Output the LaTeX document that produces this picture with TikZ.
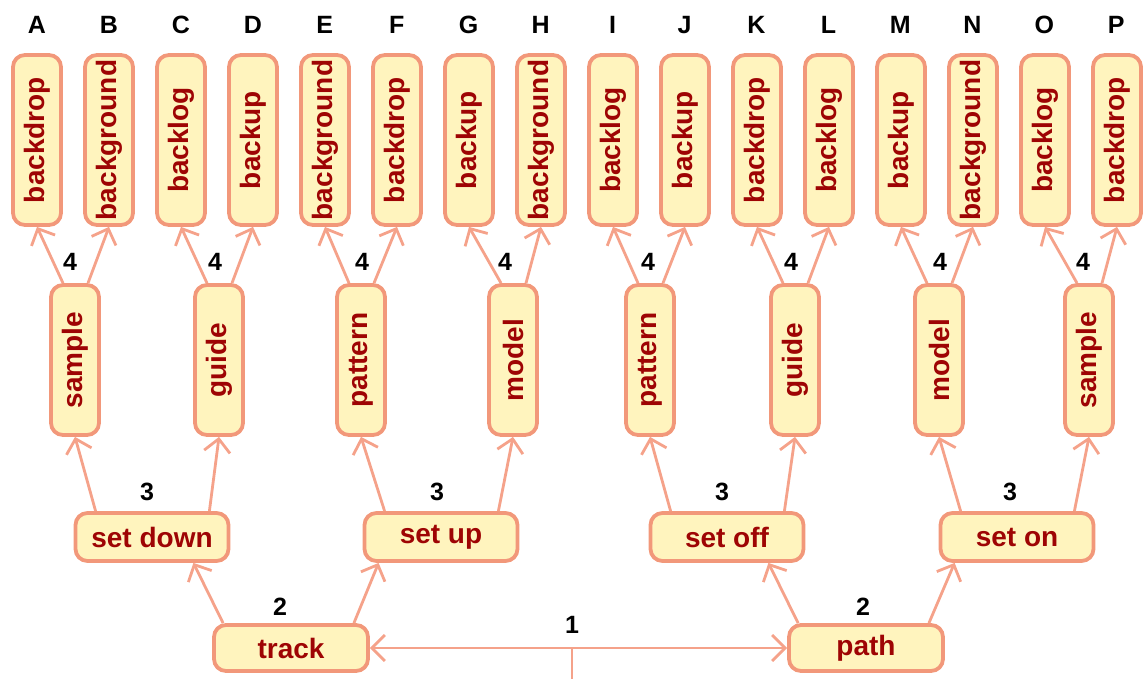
\documentclass[tikz,border=0pt]{standalone}
\usepackage{fontspec}
\setmainfont{Liberation Sans}
\usepackage{graphicx}
\usetikzlibrary{arrows.meta}
\definecolor{bd}{RGB}{242,152,122}
\definecolor{ln}{RGB}{245,162,138}
\definecolor{fl}{RGB}{255,244,190}
\definecolor{tx}{RGB}{158,4,4}
\begin{document}
\begin{tikzpicture}[x=1pt,y=-1pt,
 box/.style={draw=bd, fill=fl, line width=3.8pt, rounded corners=12pt, text=tx, font=\fontsize{28}{30}\selectfont\bfseries, inner sep=0pt},
 leaf/.style={box, minimum width=48pt, minimum height=170pt},
 mid/.style={box, minimum width=48pt, minimum height=150pt},
 hbox/.style={box, minimum width=153pt, minimum height=48pt},
 rootbox/.style={box, minimum width=154pt, minimum height=46pt},
 lab/.style={font=\fontsize{25}{27}\selectfont\bfseries, text=black, inner sep=0pt},
 tip/.tip={Straight Barb[length=13pt,width=26pt]},
 con/.style={draw=ln, line width=2.8pt, -tip},
]
\useasboundingbox (0,0) rectangle (1148,679);
% letters
\foreach \l [count=\i from 0] in {A,B,C,D,E,F,G,H,I,J,K,L,M,N,O,P}
  \node[lab] (let\l) at ({37+71.95*\i},25) {\l};
% leaves
\node[leaf] (A) at (37,140) {\rotatebox{90}{backdrop}};
\node[leaf] (B) at (109,140) {\rotatebox{90}{background}};
\node[leaf] (C) at (181,140) {\rotatebox{90}{backlog}};
\node[leaf] (D) at (253,140) {\rotatebox{90}{backup}};
\node[leaf] (E) at (325,140) {\rotatebox{90}{background}};
\node[leaf] (F) at (397,140) {\rotatebox{90}{backdrop}};
\node[leaf] (G) at (469,140) {\rotatebox{90}{backup}};
\node[leaf] (H) at (541,140) {\rotatebox{90}{background}};
\node[leaf] (I) at (613,140) {\rotatebox{90}{backlog}};
\node[leaf] (J) at (685,140) {\rotatebox{90}{backup}};
\node[leaf] (K) at (757,140) {\rotatebox{90}{backdrop}};
\node[leaf] (L) at (829,140) {\rotatebox{90}{backlog}};
\node[leaf] (M) at (901,140) {\rotatebox{90}{backup}};
\node[leaf] (N) at (973,140) {\rotatebox{90}{background}};
\node[leaf] (O) at (1045,140) {\rotatebox{90}{backlog}};
\node[leaf] (P) at (1117,140) {\rotatebox{90}{backdrop}};
% level 3
\node[mid] (m1) at (75,360) {\rotatebox{90}{sample}};
\node[mid] (m2) at (219,360) {\rotatebox{90}{guide}};
\node[mid] (m3) at (361,360) {\rotatebox{90}{pattern}};
\node[mid] (m4) at (513,360) {\rotatebox{90}{model}};
\node[mid] (m5) at (650,360) {\rotatebox{90}{pattern}};
\node[mid] (m6) at (795,360) {\rotatebox{90}{guide}};
\node[mid] (m7) at (939,360) {\rotatebox{90}{model}};
\node[mid] (m8) at (1089,360) {\rotatebox{90}{sample}};
% level 2
\node[hbox] (s1) at (152,537) {set down};
\node[hbox] (s2) at (441,537) {set up};
\node[hbox] (s3) at (727,537) {set off};
\node[hbox] (s4) at (1017,537) {set on};
% level 1
\node[rootbox] (track) at (291,648) {track};
\node[rootbox] (path) at (866,648) {path};
% labels
\foreach \x [count=\i] in {70,215,362,505,648,791,940,1083}
  \node[lab] (four\i) at (\x,262) {4};
\foreach \x [count=\i] in {147,437,722,1010}
  \node[lab] (three\i) at (\x,492) {3};
\node[lab] (two1) at (280,607) {2};
\node[lab] (two2) at (863,607) {2};
\node[lab] (one) at (572,625) {1};
% edges level 3 -> leaves
\foreach \m/\a/\b in {m1/A/B, m2/C/D, m3/E/F, m4/G/H, m5/I/J, m6/K/L, m7/M/N, m8/O/P}{
  \draw[con] ([xshift=-12pt]\m.north) -- (\a.south);
  \draw[con] ([xshift=13pt]\m.north) -- (\b.south);
}
% edges level 2 -> level 3
\foreach \s/\a/\b in {s1/m1/m2, s2/m3/m4, s3/m5/m6, s4/m7/m8}{
  \draw[con] ([xshift=22pt]\s.north west) -- (\a.south);
  \draw[con] ([xshift=-21pt]\s.north east) -- (\b.south);
}
% edges level 1 -> level 2
\foreach \r/\a/\b in {track/s1/s2, path/s3/s4}{
  \draw[con] ([xshift=11pt]\r.north west) -- ([xshift=-37pt]\a.south east);
  \draw[con] ([xshift=-16pt]\r.north east) -- ([xshift=16pt]\b.south west);
}
% root link
\draw[con, tip-tip] (track.east) -- (path.west);
\coordinate (tickbot) at (572,679);
\draw[draw=ln, line width=2.8pt] (tickbot) -- (tickbot |- track.east);
\end{tikzpicture}
\end{document}
